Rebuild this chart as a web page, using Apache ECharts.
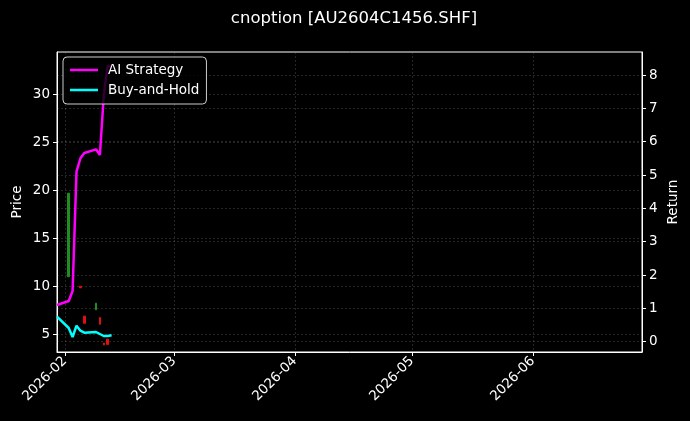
<!DOCTYPE html>
<html>
<head>
<meta charset="utf-8">
<script src="https://cdn.jsdelivr.net/npm/echarts@6/dist/echarts.min.js"></script>
<style>
html,body{margin:0;padding:0;background:#000;}
#chart{width:690px;height:421px;}
</style>
</head>
<body>
<div id="chart"></div>
<script>
// ---- data ----
const lineDates = ['2026-01-30','2026-02-02','2026-02-03','2026-02-04','2026-02-05','2026-02-06','2026-02-09','2026-02-10','2026-02-11','2026-02-12','2026-02-13'];
const aiStrategy = [1.10, 1.22, 1.52, 5.10, 5.50, 5.66, 5.77, 5.60, 7.40, 8.28, 8.25];
const buyHold    = [0.75, 0.41, 0.14, 0.48, 0.33, 0.27, 0.29, 0.23, 0.17, 0.17, 0.19];

const candleDates = ['2026-02-02','2026-02-05','2026-02-06','2026-02-09','2026-02-10','2026-02-11','2026-02-12'];
const candleOpen  = [11.0, 10.0, 6.9, 7.55, 6.75, 4.1, 4.5];
const candleClose = [19.7, 9.85, 6.15, 8.25, 6.05, 3.9, 3.95];

const priceTicks  = [5, 10, 15, 20, 25, 30];
const returnTicks = [0, 1, 2, 3, 4, 5, 6, 7, 8];
const monthTicks  = ['2026-02-01','2026-03-01','2026-04-01','2026-05-01','2026-06-01'];

const titleText = 'cnoption [AU2604C1456.SHF]';

// ---- build ----
const ts = s => new Date(s + 'T00:00:00').getTime();
const candleData = candleDates.map((d, i) => [
  ts(d), candleOpen[i], candleClose[i],
  Math.min(candleOpen[i], candleClose[i]), Math.max(candleOpen[i], candleClose[i])
]);
const aiData = lineDates.map((d, i) => [ts(d), aiStrategy[i]]);
const bhData = lineDates.map((d, i) => [ts(d), buyHold[i]]);
const fmtMonth = v => {
  const d = new Date(v);
  return d.getFullYear() + '-' + String(d.getMonth() + 1).padStart(2, '0');
};

const font = 'DejaVu Sans';
const gridLine = {show: true, lineStyle: {color: 'rgba(140,140,140,0.45)', width: 0.6, type: [2, 2]}};
const tick = {show: true, inside: false, length: 4, lineStyle: {color: '#fff', width: 1}};

const chart = echarts.init(document.getElementById('chart'), null, {renderer: 'canvas'});
chart.setOption({
  backgroundColor: '#000',
  animation: false,
  title: {
    text: titleText, left: 349, textAlign: 'center', top: 5,
    textStyle: {color: '#fff', fontFamily: font, fontSize: 16.5, fontWeight: 'normal'}
  },
  legend: {
    left: 63, top: 57, orient: 'vertical',
    data: [{name: 'AI Strategy', icon: 'rect'}, {name: 'Buy-and-Hold', icon: 'rect'}],
    itemWidth: 28, itemHeight: 2.5, itemGap: 4,
    padding: [5, 7, 6, 7],
    backgroundColor: 'rgba(0,0,0,0.8)',
    borderColor: '#ccc', borderWidth: 1, borderRadius: 4,
    textStyle: {color: '#fff', fontFamily: font, fontSize: 13.5, lineHeight: 16, padding: [0, 0, 0, 5]}
  },
  grid: {left: 57, right: 48, top: 52, bottom: 69, containLabel: false, outerBoundsMode: 'none',
         show: true, borderColor: '#fff', borderWidth: 1, backgroundColor: 'transparent'},
  xAxis: {
    type: 'value',
    min: ts('2026-01-30'), max: ts('2026-06-29'),
    axisLine: {show: true, onZero: false, lineStyle: {color: '#fff'}},
    axisTick: Object.assign({}, tick, {customValues: monthTicks.map(ts)}),
    axisLabel: {
      customValues: monthTicks.map(ts),
      rotate: 45, margin: 7, color: '#fff', fontFamily: font, fontSize: 13.5,
      formatter: fmtMonth
    },
    splitLine: gridLine
  },
  yAxis: [
    {
      type: 'value', position: 'left', min: 3.16, max: 34.41,
      name: 'Price', nameLocation: 'middle', nameGap: 33, nameRotate: 90, nameMoveOverlap: false,
      nameTextStyle: {color: '#fff', fontFamily: font, fontSize: 13.5},
      axisLine: {show: true, onZero: false, lineStyle: {color: '#fff'}},
      axisTick: Object.assign({}, tick, {customValues: priceTicks}),
      axisLabel: {customValues: priceTicks, color: '#fff', fontFamily: font, fontSize: 13.5, margin: 7},
      splitLine: gridLine
    },
    {
      type: 'value', position: 'right', min: -0.31, max: 8.69,
      name: 'Return', nameLocation: 'middle', nameGap: 24, nameRotate: 90, nameMoveOverlap: false,
      nameTextStyle: {color: '#fff', fontFamily: font, fontSize: 13.5},
      axisLine: {show: true, onZero: false, lineStyle: {color: '#fff'}},
      axisTick: Object.assign({}, tick, {customValues: returnTicks}),
      axisLabel: {customValues: returnTicks, color: '#fff', fontFamily: font, fontSize: 13.5, margin: 7},
      splitLine: gridLine
    }
  ],
  series: [
    {
      type: 'candlestick', name: 'Price', xAxisIndex: 0, yAxisIndex: 0,
      data: candleData, encode: {x: 0, y: [1, 2, 3, 4]},
      barWidth: 2,
      itemStyle: {color: '#1e8f1e', borderColor: '#1e8f1e', color0: '#e01010', borderColor0: '#e01010', borderWidth: 1},
      z: 1
    },
    {
      type: 'line', name: 'AI Strategy', xAxisIndex: 0, yAxisIndex: 1,
      data: aiData, symbol: 'none', lineStyle: {color: '#ff00ff', width: 2.5}, itemStyle: {color: '#ff00ff'}, z: 3
    },
    {
      type: 'line', name: 'Buy-and-Hold', xAxisIndex: 0, yAxisIndex: 1,
      data: bhData, symbol: 'none', lineStyle: {color: '#00ffff', width: 2.5}, itemStyle: {color: '#00ffff'}, z: 3
    }
  ]
});
</script>
</body>
</html>
